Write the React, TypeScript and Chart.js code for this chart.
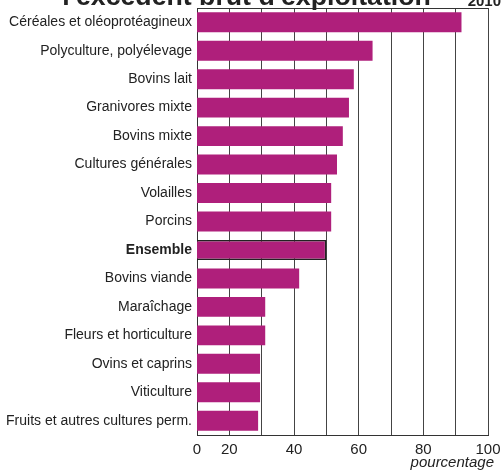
import React, { useEffect, useRef } from "react";
import { Chart, registerables } from "chart.js";

Chart.register(...registerables);

const categories = [
  "Céréales et oléoprotéagineux",
  "Polyculture, polyélevage",
  "Bovins lait",
  "Granivores mixte",
  "Bovins mixte",
  "Cultures générales",
  "Volailles",
  "Porcins",
  "Ensemble",
  "Bovins viande",
  "Maraîchage",
  "Fleurs et horticulture",
  "Ovins et caprins",
  "Viticulture",
  "Fruits et autres cultures perm.",
];

const values = [91.8, 64.3, 58.5, 57.0, 55.1, 53.3, 51.5, 51.5, 50.0, 41.6, 31.1, 31.1, 29.5, 29.5, 28.9];

const tickValues = [10, 20, 30, 40, 50, 60, 70, 80, 90, 100];
const tickLabels: Record<number, string> = { 10: "0", 20: "20", 40: "40", 60: "60", 80: "80", 100: "100" };

const titleText = "l'excédent brut d'exploitation";
const yearText = "2010";
const unitText = "pourcentage";

const FONT = "'Liberation Sans', Arial, sans-serif";
const BAR = "#AF1F7B";

export default function App() {
  const ref = useRef<HTMLCanvasElement | null>(null);

  useEffect(() => {
    if (!ref.current) return;
    const decor = {
      id: "decor",
      afterDraw(chart: any) {
        const { ctx, chartArea } = chart;
        ctx.save();
        ctx.strokeStyle = "#333";
        ctx.lineWidth = 1;
        ctx.beginPath();
        ctx.moveTo(chartArea.left, chartArea.top + 0.5);
        ctx.lineTo(chartArea.right, chartArea.top + 0.5);
        ctx.stroke();
        ctx.fillStyle = "#222";
        ctx.textBaseline = "alphabetic";
        ctx.font = `bold 26.7px ${FONT}`;
        ctx.textAlign = "center";
        ctx.fillText(titleText, 246.5, 5);
        ctx.font = `bold 15px ${FONT}`;
        ctx.textAlign = "right";
        ctx.fillText(yearText, 501, 6);
        ctx.font = `italic 15px ${FONT}`;
        ctx.fillText(unitText, 494, 467);
        ctx.restore();
      },
    };
    const chart = new Chart(ref.current, {
      type: "bar",
      data: {
        labels: categories,
        datasets: [
          {
            data: values,
            backgroundColor: BAR,
            borderColor: categories.map((c) => (c === "Ensemble" ? "#222" : "rgba(0,0,0,0)")),
            borderWidth: categories.map((c) => (c === "Ensemble" ? 1.5 : 0)),
            borderSkipped: false,
            barPercentage: 0.7,
            categoryPercentage: 1,
          },
        ],
      },
      options: {
        indexAxis: "y",
        animation: false,
        responsive: false,
        maintainAspectRatio: false,
        layout: { autoPadding: false, padding: { top: 8, right: 13, left: 0, bottom: 0 } },
        plugins: { legend: { display: false }, tooltip: { enabled: false }, title: { display: false } },
        scales: {
          x: {
            type: "linear",
            min: 10,
            max: 100,
            afterBuildTicks: (scale: any) => {
              scale.ticks = tickValues.map((v) => ({ value: v }));
            },
            afterFit: (scale: any) => {
              scale.height = 35;
              scale.paddingLeft = 0;
              scale.paddingRight = 0;
            },
            ticks: {
              autoSkip: false,
              maxRotation: 0,
              padding: 6,
              color: "#222",
              font: { family: FONT, size: 15 },
              callback: (v: any) => tickLabels[v as number] ?? "",
            },
            grid: { color: "#444", lineWidth: 1, drawTicks: false },
            border: { color: "#333", width: 1 },
          },
          y: {
            afterFit: (scale: any) => {
              scale.width = 197;
              scale.paddingTop = 0;
              scale.paddingBottom = 0;
            },
            ticks: {
              autoSkip: false,
              padding: 5,
              color: "#222",
              font: (ctx: any) => ({
                family: FONT,
                size: 14,
                weight: categories[ctx.index] === "Ensemble" ? "bold" : "normal",
              }),
            },
            grid: { display: false, drawTicks: false },
            border: { color: "#333", width: 1 },
          },
        },
      },
      plugins: [decor],
    } as any);
    return () => chart.destroy();
  }, []);

  return (
    <div style={{ position: "fixed", left: 0, top: 0, width: 501, height: 470, background: "#fff" }}>
      <canvas ref={ref} width={501} height={470} style={{ width: 501, height: 470, display: "block" }} />
    </div>
  );
}
